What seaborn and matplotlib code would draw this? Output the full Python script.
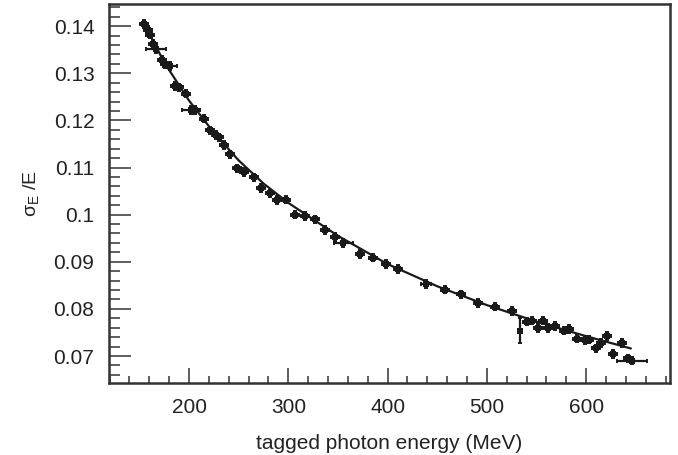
import numpy as np
import pandas as pd
import matplotlib
matplotlib.use("Agg")
import matplotlib.pyplot as plt
from matplotlib.ticker import MultipleLocator, FormatStrFormatter
import seaborn as sns

energy = [155.0, 159.0, 160.7, 163.4, 166.8, 172.5, 175.8, 180.9, 185.9, 190.2,
          197.0, 201.7, 206.0, 215.1, 221.1, 227.2, 230.5, 235.2, 241.3, 248.6,
          255.4, 265.5, 272.2, 281.6, 288.9, 297.7, 306.7, 316.8, 326.9, 337.0,
          347.0, 355.5, 372.2, 385.0, 398.4, 410.8, 438.7, 457.8, 473.6, 491.3,
          508.2, 525.0, 533.3, 540.0, 545.0, 551.1, 556.2, 561.8, 568.6, 577.6,
          583.0, 590.4, 598.8, 603.1, 609.9, 614.6, 620.6, 627.3, 635.7, 642.4,
          645.8]
sigma = [0.1404, 0.1392, 0.1382, 0.1363, 0.1351, 0.1328, 0.1319, 0.1316, 0.1273, 0.1270,
         0.1257, 0.1222, 0.1222, 0.1204, 0.1179, 0.1169, 0.1164, 0.1148, 0.1128, 0.1098,
         0.1091, 0.1079, 0.1056, 0.1045, 0.1031, 0.1032, 0.1000, 0.0997, 0.0990, 0.0967,
         0.0953, 0.0940, 0.0916, 0.0909, 0.0895, 0.0885, 0.0853, 0.0841, 0.0831, 0.0813,
         0.0805, 0.0796, 0.0754, 0.0773, 0.0775, 0.0759, 0.0775, 0.0759, 0.0764, 0.0754,
         0.0757, 0.0737, 0.0734, 0.0735, 0.0716, 0.0728, 0.0742, 0.0704, 0.0728, 0.0695,
         0.0690]
energy_err = [4, 4, 4, 4, 10, 4, 4, 7, 4, 4,
              4, 9, 4, 4, 4, 4, 4, 4, 4, 4,
              4, 4, 4, 4, 4, 4, 4, 4, 4, 4,
              4, 10, 4, 4, 4, 4, 5, 4, 4, 4,
              4, 4, 1, 4, 4, 4, 4, 4, 4, 4,
              4, 4, 4, 4, 4, 4, 4, 4, 4, 4,
              15]
sigma_err = [0.0008] * 42 + [0.0027] + [0.0008] * 18

# fit curve
fit_energy = [155, 175, 200, 225, 250, 275, 300, 350, 400, 450, 500, 550, 600, 645]
fit_sigma = [0.1405, 0.1323, 0.1242, 0.1174, 0.1115, 0.1066, 0.1025, 0.0955,
             0.0895, 0.0848, 0.0808, 0.0773, 0.0742, 0.0716]

sns.set_theme(style="white")
plt.rcParams['font.family'] = ['Liberation Sans', 'DejaVu Sans']
plt.rcParams['mathtext.fontset'] = 'custom'
plt.rcParams['mathtext.rm'] = 'Liberation Sans'
plt.rcParams['mathtext.it'] = 'Liberation Sans:italic'
plt.rcParams['mathtext.default'] = 'regular'

ink = '#1a1a1a'
df = pd.DataFrame({'E': energy, 's': sigma})

fig, ax = plt.subplots(figsize=(6.78, 4.55), dpi=100)
fig.subplots_adjust(left=0.1608, right=0.9882, top=0.9912, bottom=0.1582)

ax.errorbar(energy, sigma, xerr=energy_err, yerr=sigma_err, fmt='none',
            ecolor=ink, elinewidth=1.6, capsize=1.2, capthick=1.4, zorder=2)
sns.scatterplot(data=df, x='E', y='s', marker='s', s=13, color=ink,
                linewidth=0, ax=ax, zorder=3)
sns.lineplot(x=fit_energy, y=fit_sigma, color=ink, linewidth=1.6, ax=ax, zorder=4)

ax.set_xlim(119.4, 684.4)
ax.set_ylim(0.06427, 0.1447)
ax.xaxis.set_major_locator(MultipleLocator(100))
ax.xaxis.set_minor_locator(MultipleLocator(20))
ax.yaxis.set_major_locator(MultipleLocator(0.01))
ax.yaxis.set_minor_locator(MultipleLocator(0.002))
ax.yaxis.set_major_formatter(FormatStrFormatter('%g'))

ax.tick_params(axis='both', which='both', direction='in', color='#333333',
               bottom=True, left=True, top=False, right=False,
               width=1.1, labelsize=15, labelcolor='#222222')
ax.tick_params(axis='y', which='major', length=15.8, pad=10.5)
ax.tick_params(axis='y', which='minor', length=7.9)
ax.tick_params(axis='x', which='major', length=10.8, pad=11)
ax.tick_params(axis='x', which='minor', length=5.4)

for sp in ax.spines.values():
    sp.set_color('#333333')
    sp.set_linewidth(1.8)

ax.set_xlabel('tagged photon energy (MeV)', fontsize=15, color='#222222', labelpad=12)
ax.set_ylabel(r'$\sigma_{E}$ /E', fontsize=14, color='#222222', labelpad=9)

fig.savefig('out.png', dpi=100)
